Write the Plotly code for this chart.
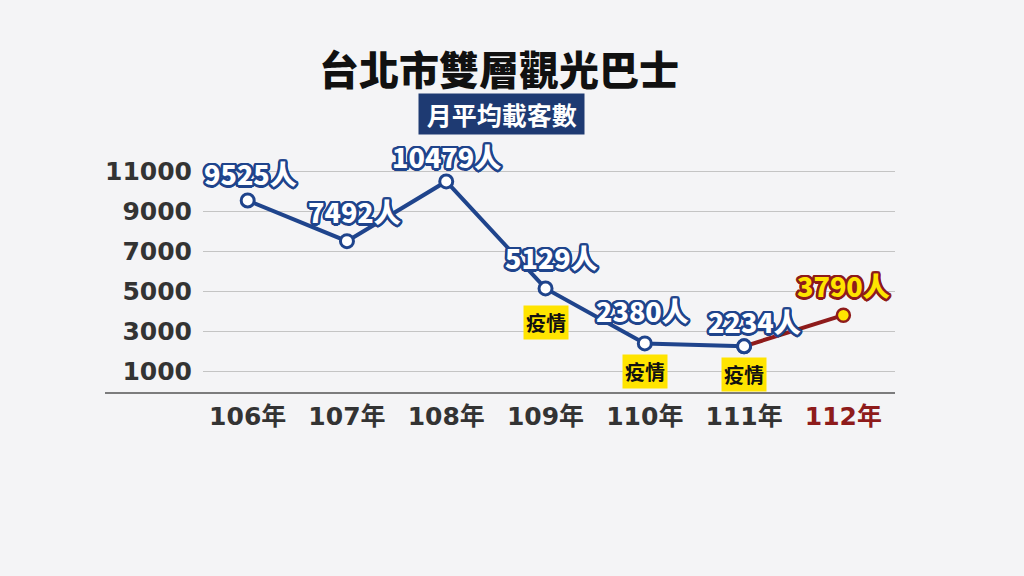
import math
import plotly.graph_objects as go

years = ["106年", "107年", "108年", "109年", "110年", "111年", "112年"]
riders = [9525, 7492, 10479, 5129, 2380, 2234, 3790]
covid_years = ["109年", "110年", "111年"]
y_ticks = [1000, 3000, 5000, 7000, 9000, 11000]

NAVY = "#1f448c"
RED = "#8e1b1b"
YELLOW = "#ffe400"
FONT = "Noto Sans CJK TC"
TICKFONT = "DejaVu Sans, Noto Sans CJK TC"


def outline(color, r=2.5, n=16):
    parts = []
    for rr in (r, r * 0.6):
        for i in range(n):
            a = 2 * math.pi * i / n
            parts.append(f"{rr*math.cos(a):.2f}px {rr*math.sin(a):.2f}px 0 {color}")
    return ", ".join(parts)


fig = go.Figure()

fig.add_trace(go.Scatter(
    x=years[:6], y=riders[:6], mode="lines+markers",
    line=dict(color=NAVY, width=4),
    marker=dict(size=13, color="white", line=dict(color=NAVY, width=3)),
    hoverinfo="skip", showlegend=False, cliponaxis=False))
fig.add_trace(go.Scatter(
    x=years[5:7], y=riders[5:7], mode="lines",
    line=dict(color=RED, width=4),
    hoverinfo="skip", showlegend=False, cliponaxis=False))
fig.add_trace(go.Scatter(
    x=[years[5]], y=[riders[5]], mode="markers",
    marker=dict(size=13, color="white", line=dict(color=NAVY, width=3)),
    hoverinfo="skip", showlegend=False, cliponaxis=False))
fig.add_trace(go.Scatter(
    x=[years[6]], y=[riders[6]], mode="markers",
    marker=dict(size=13, color=YELLOW, line=dict(color=RED, width=2.5)),
    hoverinfo="skip", showlegend=False, cliponaxis=False))

shifts = [(3, 27), (8, 30), (0, 25), (6, 31), (-2, 33), (10, 25), (0, 30)]
annotations = []
for i, (yr, v) in enumerate(zip(years, riders)):
    last = i == len(years) - 1
    annotations.append(dict(
        x=yr, y=v, xref="x", yref="y", text=f"{v}人", showarrow=False,
        xshift=shifts[i][0], yshift=shifts[i][1],
        font=dict(family=FONT, size=27, weight=900,
                  color=YELLOW if last else "white",
                  shadow=outline(RED if last else NAVY))))

covid_shift = {"109年": -34, "110年": -28, "111年": -28}
for yr in covid_years:
    v = riders[years.index(yr)]
    annotations.append(dict(
        x=yr, y=v, xref="x", yref="y", text="疫情", showarrow=False,
        yshift=covid_shift[yr], bgcolor=YELLOW, borderpad=2,
        font=dict(family=FONT, size=20, weight=700, color="#111111")))

L, R, T, B = 203, 129, 150, 183
pw, ph = 1024 - L - R, 576 - T - B


def px(x, y):
    return (x - L) / pw, (576 - y - B) / ph


tx, ty = px(499, 68)
annotations.append(dict(
    x=tx, y=ty, xref="paper", yref="paper", xanchor="center", yanchor="middle",
    text="台北市雙層觀光巴士", showarrow=False,
    font=dict(family=FONT, size=40, weight=900, color="#111111")))
sx, sy = px(501, 114)
annotations.append(dict(
    x=sx, y=sy, xref="paper", yref="paper", xanchor="center", yanchor="middle",
    text="&nbsp;月平均載客數&nbsp;", showarrow=False, bgcolor="#1e3a72", borderpad=2,
    font=dict(family=FONT, size=25, weight=700, color="white")))

ticktext = [f"<span style='color:{RED}'>{t}</span>" if t == years[-1] else t for t in years]

fig.update_layout(
    width=1024, height=576,
    margin=dict(l=L, r=R, t=T, b=B),
    paper_bgcolor="#f4f4f6", plot_bgcolor="rgba(0,0,0,0)",
    annotations=annotations,
    xaxis=dict(type="category", range=[-0.45, 6.52], showgrid=False, zeroline=False,
               showline=False, ticks="", tickmode="array", tickvals=years, ticktext=ticktext,
               tickfont=dict(family=TICKFONT, size=25, weight=700, color="#333333"),
               ticklabelstandoff=6),
    yaxis=dict(range=[-100, 12050], tickmode="array", tickvals=y_ticks,
               ticktext=[str(t) for t in y_ticks],
               showgrid=True, gridcolor="#c4c4c4", gridwidth=1, zeroline=False,
               showline=False, ticks="", ticklabelstandoff=10,
               tickfont=dict(family=TICKFONT, size=25, weight=700, color="#333333")),
    shapes=[dict(type="line", xref="paper", yref="paper",
                 x0=(105 - L) / pw, x1=1, y0=0, y1=0,
                 line=dict(color="#555555", width=1.5))],
)

fig.write_html("out.html")
